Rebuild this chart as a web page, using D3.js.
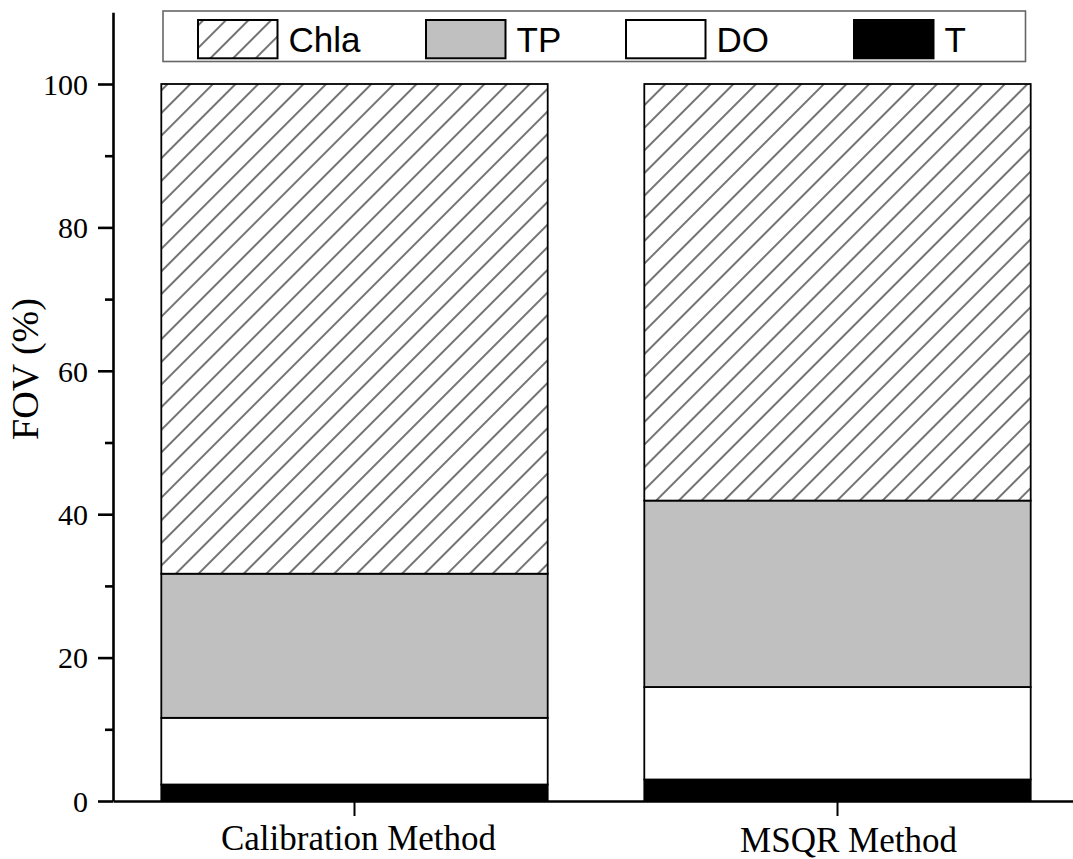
<!DOCTYPE html>
<html>
<head>
<meta charset="utf-8">
<script src="https://cdn.jsdelivr.net/npm/d3@7"></script>
<style>
  html, body { margin: 0; padding: 0; background: #fff; }
  svg { display: block; }
  .serif text { font-family: 'Liberation Serif', 'Times New Roman', serif; }
</style>
</head>
<body>
<script>
// ---- data ----
const categories = ["Calibration Method", "MSQR Method"];
const seriesNames = ["T", "DO", "TP", "Chla"];          // stacking order, bottom to top
const T_values    = [2.3, 3.0];
const DO_values   = [9.3, 12.9];
const TP_values   = [20.1, 26.0];
const Chla_values = [68.3, 58.1];
const yTicksMajor = [0, 20, 40, 60, 80, 100];
const yTicksMinor = [10, 30, 50, 70, 90];
const legendOrder = ["Chla", "TP", "DO", "T"];

// ---- layout ----
const W = 1073, H = 859;
const plot = { left: 113, right: 1079, top: 12.3, bottom: 801 };
const legendBox = { x: 163, y: 11, w: 862.5, h: 50.5 };
const legendSwatchX = [198, 426, 626, 854];
const swatchW = 79.5, swatchY = 20, swatchH = 38.3;
const serif = "'Liberation Serif', 'Times New Roman', serif";

const rows = categories.map((c, i) => ({
  cat: c, T: T_values[i], DO: DO_values[i], TP: TP_values[i], Chla: Chla_values[i]
}));
const stacked = d3.stack().keys(seriesNames)(rows);

const x = d3.scaleBand().domain(categories).range([plot.left, plot.right])
  .paddingInner(0.2).paddingOuter(0.1);
const y = d3.scaleLinear().domain([0, 110]).range([plot.bottom, plot.top]);

const svg = d3.select("body").append("svg").attr("width", W).attr("height", H);

const defs = svg.append("defs");
const pat = defs.append("pattern").attr("id", "hatch")
  .attr("patternUnits", "userSpaceOnUse")
  .attr("width", 16).attr("height", 16)
  .attr("patternTransform", "rotate(45)");
pat.append("rect").attr("width", 16).attr("height", 16).attr("fill", "#fff");
pat.append("line").attr("x1", 2).attr("x2", 2).attr("y1", -1).attr("y2", 17)
  .attr("stroke", "#000").attr("stroke-width", 1.1);

const fills = { T: "#000", DO: "#fff", TP: "#c0c0c0", Chla: "url(#hatch)" };

// bars
svg.append("g").selectAll("g").data(stacked).join("g")
  .attr("fill", d => fills[d.key])
  .selectAll("rect").data(d => d).join("rect")
  .attr("x", d => x(d.data.cat))
  .attr("width", x.bandwidth())
  .attr("y", d => y(d[1]))
  .attr("height", d => y(d[0]) - y(d[1]))
  .attr("stroke", "#000").attr("stroke-width", 1.8);

// y axis
const yAxis = svg.append("g").attr("class", "serif").attr("transform", `translate(${plot.left},0)`)
  .call(d3.axisLeft(y).tickValues(yTicksMajor).tickSize(15).tickPadding(10).tickSizeOuter(0));
yAxis.attr("font-family", serif).attr("font-size", 30);
yAxis.select(".domain").attr("stroke-width", 2.6);
yAxis.selectAll(".tick line").attr("stroke-width", 2.6);
yAxis.selectAll(".tick text").style("font-family", serif)
  .style("font-size", "30px").attr("fill", "#000").attr("dy", "0.34em");
const yMinor = svg.append("g").attr("transform", `translate(${plot.left},0)`)
  .call(d3.axisLeft(y).tickValues(yTicksMinor).tickSize(8).tickFormat(""));
yMinor.select(".domain").remove();
yMinor.selectAll(".tick line").attr("stroke-width", 2.6);

// x axis
const xAxis = svg.append("g").attr("class", "serif").attr("transform", `translate(0,${plot.bottom})`)
  .call(d3.axisBottom(x).tickSize(15).tickPadding(10).tickSizeOuter(0));
xAxis.attr("font-family", serif).attr("font-size", 35);
xAxis.select(".domain").attr("stroke-width", 2.6);
xAxis.selectAll(".tick line").attr("stroke-width", 2);
xAxis.selectAll(".tick text").style("font-family", serif)
  .style("font-size", "35px").attr("fill", "#000")
  .attr("dy", null).attr("y", null)
  .attr("transform", (d, i) => i === 0 ? "translate(4,49)" : "translate(11,51)");

// y label
svg.append("text")
  .attr("transform", "translate(37.5,369) rotate(-90)")
  .attr("text-anchor", "middle")
  .style("font-family", serif)
  .style("font-size", "38px")
  .text("FOV (%)");

// legend
const lg = svg.append("g");
lg.append("rect").attr("x", legendBox.x).attr("y", legendBox.y)
  .attr("width", legendBox.w).attr("height", legendBox.h)
  .attr("fill", "#fff").attr("stroke", "#666").attr("stroke-width", 1.6);
const items = lg.selectAll("g.item").data(legendOrder).join("g").attr("class", "item")
  .attr("transform", (d, i) => `translate(${legendSwatchX[i]},0)`);
items.append("rect").attr("x", 0).attr("y", swatchY)
  .attr("width", swatchW).attr("height", swatchH)
  .attr("fill", d => fills[d]).attr("stroke", "#000").attr("stroke-width", 2);
items.append("text").attr("x", swatchW + 11).attr("y", 52)
  .style("font-family", "'Liberation Sans', Arial, sans-serif")
  .style("font-size", "35px").attr("fill", "#000")
  .text(d => d);
</script>
</body>
</html>
